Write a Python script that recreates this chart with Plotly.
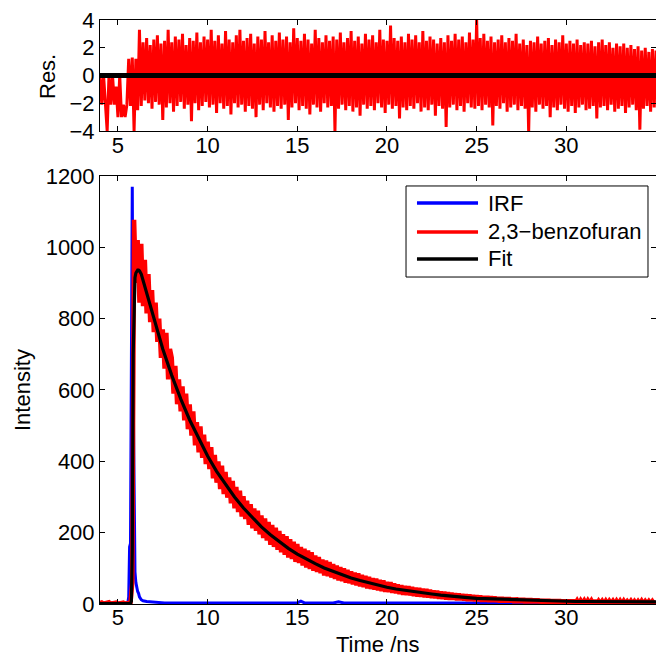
import numpy as np
import plotly.graph_objects as go

FONT = "Liberation Sans, Arial, sans-serif"

# ---------------- data ----------------
# time grid of the measured decay / residuals (ns)
t_step = 0.1
t_start = 4.0

# measured decay, 2,3-benzofuran (counts), t = 4.0 .. 35.0 step 0.1
data_counts = [
    2, 4, 1, 3, 2, 5, 1, 3, 2, 4,
    1, 3, 2, 4, 1, 3, 2, 4, 60, 1077,
    900, 1020, 845, 1010, 835, 965, 815, 925, 790, 880,
    762, 845, 735, 800, 690, 770, 660, 760, 630, 715,
    690, 590, 668, 560, 630, 540, 610, 515, 590, 490,
    560, 472, 540, 445, 510, 425, 498, 410, 475, 392,
    455, 378, 440, 352, 418, 340, 400, 322, 388, 308,
    370, 298, 355, 282, 345, 268, 328, 258, 318, 245,
    302, 238, 290, 222, 280, 212, 268, 205, 262, 195,
    248, 185, 240, 178, 230, 166, 222, 160, 214, 152,
    205, 145, 196, 138, 190, 130, 182, 126, 175, 118,
    168, 115, 160, 108, 155, 102, 150, 98, 145, 93,
    136, 90, 132, 86, 125, 80, 122, 78, 118, 74,
    112, 70, 108, 66, 104, 64, 100, 60, 96, 58,
    92, 55, 88, 52, 86, 49, 82, 47, 79, 44,
    76, 42, 73, 40, 71, 38, 68, 36, 66, 34,
    62, 33, 61, 31, 58, 30, 55, 28, 53, 26,
    51, 25, 50, 24, 48, 22, 46, 21, 45, 20,
    43, 19, 42, 18, 40, 17, 38, 16, 37, 15,
    35, 14, 34, 13, 33, 12, 31, 12, 30, 11,
    29, 11, 28, 10, 27, 9, 26, 9, 25, 8,
    24, 8, 23, 7, 22, 7, 22, 6, 21, 6,
    20, 6, 19, 5, 19, 5, 18, 5, 18, 5,
    17, 4, 17, 4, 16, 4, 16, 3, 15, 3,
    15, 3, 14, 3, 14, 3, 13, 2, 13, 2,
    13, 2, 12, 2, 12, 2, 12, 2, 11, 2,
    11, 2, 11, 1, 11, 2, 10, 1, 10, 2,
    10, 1, 10, 2, 10, 1, 10, 1, 9, 2,
    9, 1, 9, 1, 9, 2, 9, 1, 9, 1,
    9, 1, 9, 1, 8, 2, 9, 1, 8, 1,
    8, 1, 9, 1, 8, 1, 8, 1, 8, 1,
    8,
]

# weighted residuals, same time grid
residuals = [
    0, -2.1, 0, -2.1, -4.0, 0, -2.1, 0, -2.1, -0.8,
    -3.0, 0, -3.0, -2.1, -3.0, -2.1, 1.2, -2.2, 1.3, -4.0,
    1.2, -2.5,
    3.3, -2.2, 2.4, -1.8, 2.7, -2.0, 2.2, -2.4, 2.6, -1.9,
    2.9, -2.1, 2.3, -3.2, 2.5, -2.3, 3.3, -2.0, 2.4, -2.6,
    2.8, -2.2, 2.6, -1.9, 3.0, -2.4, 2.2, -2.1, 2.7, -3.3,
    2.5, -2.0, 3.1, -2.5, 2.4, -2.2, 2.8, -1.9, 2.6, -2.3,
    3.3, -2.1, 2.5, -2.7, 2.9, -2.0, 2.3, -2.4, 3.2, -2.2,
    2.6, -2.8, 2.4, -2.0, 2.9, -2.3, 3.3, -2.1, 2.5, -2.6,
    2.7, -2.2, 3.0, -2.4, 2.3, -3.0, 2.8, -2.1, 2.6, -2.5,
    3.2, -2.0, 2.4, -2.3, 2.9, -2.6, 2.5, -2.2, 3.1, -2.4,
    2.6, -2.1, 2.8, -3.2, 2.4, -2.3, 3.4, -2.0, 2.7, -2.5,
    2.5, -2.2, 3.0, -2.4, 2.6, -2.8, 2.3, -2.1, 3.3, -2.3,
    2.7, -2.6, 2.4, -2.0, 2.9, -2.3, 2.5, -2.2, 2.8, -4.0,
    2.6, -2.4, 3.1, -2.1, 2.4, -2.5, 2.7, -2.2, 3.2, -2.6,
    2.5, -2.3, 2.8, -2.9, 2.3, -2.1, 3.0, -2.4, 2.6, -2.2,
    2.9, -2.5, 2.4, -2.0, 3.3, -2.3, 2.6, -2.7, 2.5, -2.1,
    3.6, -2.4, 2.7, -2.2, 2.5, -3.1, 2.8, -2.3, 2.4, -2.5,
    3.0, -2.2, 2.6, -2.4, 2.9, -2.0, 2.4, -2.6, 3.2, -2.3,
    2.5, -2.5, 2.8, -2.1, 2.6, -2.9, 2.3, -2.2, 2.7, -2.4,
    2.4, -3.7, 2.9, -2.3, 2.5, -2.1, 3.0, -2.5, 2.6, -2.2,
    2.8, -2.6, 2.4, -2.0, 3.1, -2.3, 2.6, -2.4, 4.0, -2.2,
    2.7, -2.5, 3.0, -2.1, 2.5, -2.3, 2.8, -3.6, 2.4, -2.2,
    2.6, -2.4, 2.9, -2.0, 2.4, -2.6, 2.7, -2.3, 2.5, -2.1,
    3.0, -2.5, 2.3, -2.2, 2.6, -2.4, 2.2, -4.1, 2.5, -2.3,
    2.4, -2.6, 2.8, -2.1, 2.3, -2.4, 2.5, -2.2, 2.7, -3.0,
    2.2, -2.3, 2.6, -2.5, 2.4, -2.1, 2.9, -2.4, 2.3, -2.6,
    2.5, -2.2, 2.3, -2.7, 2.6, -2.3, 2.2, -2.1, 2.4, -2.5,
    2.3, -2.4, 2.5, -2.2, 2.1, -3.1, 2.4, -2.3, 2.6, -2.2,
    2.2, -2.5, 2.4, -2.1, 2.0, -2.6, 2.3, -2.4, 2.1, -2.2,
    2.3, -2.7, 2.0, -2.3, 2.2, -2.1, 1.9, -2.5, 2.1, -3.9,
    1.8, -2.4, 2.0, -2.2, 1.7, -2.6, 1.9, -2.3, 1.8,
]

# instrument response function
irf_time = [4.0, 5.55, 5.6, 5.65, 5.7, 5.75, 5.8, 5.85, 5.9, 5.95, 6.0, 6.05,
            6.1, 6.15, 6.2, 6.3, 6.4, 6.6, 6.8, 7.0, 7.2, 7.4, 7.6, 8.0, 9.0,
            10.0, 11.0, 12.0, 13.0, 14.0, 15.0, 15.2, 15.4, 16.0, 17.0, 17.3,
            17.6, 18.0, 19.0, 20.0, 21.0, 22.0, 23.0, 24.0, 24.5, 25.0, 26.0,
            27.0, 28.0, 29.0, 30.0, 31.0]
irf_counts = [3, 3, 20, 160, 170, 890, 1170, 600, 200, 90, 60, 45,
              35, 30, 20, 12, 9, 7, 6, 5, 5, 4, 3, 3, 3,
              3, 3, 3, 3, 3, 3, 8, 3, 3, 3, 6,
              3, 3, 3, 3, 3, 3, 3, 3, 5, 3, 3,
              3, 3, 3, 3, 3]

# fitted decay
fit_time = [4.0, 5.7, 5.75, 5.8, 5.85, 5.9, 5.95, 6.0, 6.05, 6.1, 6.15, 6.2,
            6.3, 6.4, 6.5, 7.0, 7.5, 8.0, 8.5, 9.0, 9.5, 10.0, 10.5, 11.0,
            11.5, 12.0, 12.5, 13.0, 13.5, 14.0, 14.5, 15.0, 15.5, 16.0, 16.5,
            17.0, 17.5, 18.0, 18.5, 19.0, 19.5, 20.0, 20.5, 21.0, 21.5, 22.0,
            22.5, 23.0, 23.5, 24.0, 24.5, 25.0, 25.5, 26.0, 26.5, 27.0, 27.5,
            28.0, 28.5, 29.0, 29.5, 30.0, 30.5, 31.0, 31.5, 32.0, 32.5, 33.0,
            33.5, 34.0, 34.5, 35.0]
fit_counts = [1, 1, 8, 150, 700, 885, 915, 928, 934, 936, 936, 934,
              925, 908, 885, 800, 715, 641, 575, 516, 463, 415, 372, 334,
              300, 269, 241, 216, 194, 174, 156, 140, 126, 113, 101,
              91, 82, 73, 66, 59, 53, 47, 42, 38, 34, 31,
              28, 25, 22, 20, 18, 16, 15, 14, 13, 12, 11,
              10, 9, 9, 8, 8, 7, 7, 7, 6, 6, 6,
              6, 6, 6, 6]

zero_time = [4.0, 35.0]
zero_res = [0, 0]

x_ticks = [5, 10, 15, 20, 25, 30]
main_y_ticks = [0, 200, 400, 600, 800, 1000, 1200]
res_y_ticks = [-4, -2, 0, 2, 4]

legend_names = ["IRF", "2,3\u2212benzofuran", "Fit"]
legend_colors = ["#0000ff", "#ff0000", "#000000"]

data_time = list(np.round(t_start + t_step * np.arange(len(data_counts)), 2))
res_time = list(np.round(t_start + t_step * np.arange(len(residuals)), 2))

FS = 22

# ---------------- figure ----------------
fig = go.Figure()
fig.add_trace(go.Scatter(x=irf_time, y=irf_counts, mode="lines",
                         line=dict(color="#0000ff", width=3),
                         xaxis="x", yaxis="y", showlegend=False))
fig.add_trace(go.Scatter(x=data_time, y=data_counts, mode="lines",
                         line=dict(color="#ff0000", width=4.5),
                         xaxis="x", yaxis="y", showlegend=False))
fig.add_trace(go.Scatter(x=fit_time, y=fit_counts, mode="lines",
                         line=dict(color="#000000", width=3.2),
                         xaxis="x", yaxis="y", showlegend=False))
fig.add_trace(go.Scatter(x=res_time, y=residuals, mode="lines",
                         line=dict(color="#ff0000", width=3),
                         xaxis="x2", yaxis="y2", showlegend=False))
fig.add_trace(go.Scatter(x=zero_time, y=zero_res, mode="lines",
                         line=dict(color="#000000", width=5),
                         xaxis="x2", yaxis="y2", showlegend=False))

common = dict(showline=True, linecolor="black", linewidth=1, mirror="ticks",
              ticks="inside", ticklen=5, tickwidth=1, tickcolor="black",
              showgrid=False, zeroline=False,
              tickfont=dict(family=FONT, size=FS, color="black"))

fig.update_layout(
    width=656, height=656,
    margin=dict(l=100, r=0, t=20, b=52),
    paper_bgcolor="white", plot_bgcolor="white",
    font=dict(family=FONT, size=FS, color="black"),
    showlegend=False,
    xaxis=dict(domain=[0, 1], range=[4, 35], tickvals=x_ticks, anchor="y",
               ticklabelstandoff=-6, **common),
    yaxis=dict(domain=[0, 0.7329], range=[0, 1200], tickvals=main_y_ticks, anchor="x", **common),
    xaxis2=dict(domain=[0, 1], range=[4, 35], tickvals=x_ticks, anchor="y2",
                ticklabelstandoff=-5, **common),
    yaxis2=dict(domain=[0.8099, 1], range=[-4, 4], tickvals=res_y_ticks, anchor="x2", **common),
)

# axis titles
fig.add_annotation(text="Time /ns", xref="paper", yref="paper", x=0.5, y=-0.0702,
                   xanchor="center", yanchor="middle", showarrow=False,
                   font=dict(family=FONT, size=FS, color="black"))
fig.add_annotation(text="Intensity", xref="paper", yref="paper", x=-0.1403, y=0.3664,
                   xanchor="center", yanchor="middle", showarrow=False, textangle=-90,
                   font=dict(family=FONT, size=FS, color="black"))
fig.add_annotation(text="Res.", xref="paper", yref="paper", x=-0.0935, y=0.9024,
                   xanchor="center", yanchor="middle", showarrow=False, textangle=-90,
                   font=dict(family=FONT, size=FS, color="black"))

# legend box drawn by hand (MATLAB style)
fig.add_shape(type="rect", xref="paper", yref="paper", x0=0.5504, x1=0.9856,
              y0=0.5599, y1=0.7158, line=dict(color="black", width=1), fillcolor="white")
row_y = [0.6866, 0.6370, 0.5908]
for name, col, yy in zip(legend_names, legend_colors, row_y):
    fig.add_shape(type="line", xref="paper", yref="paper", x0=0.5701, x1=0.6799,
                  y0=yy, y1=yy, line=dict(color=col, width=3.5))
    fig.add_annotation(text=name, xref="paper", yref="paper", x=0.6942, y=yy,
                       xanchor="left", yanchor="middle", showarrow=False,
                       font=dict(family=FONT, size=FS, color="black"))

fig.write_html("out.html",
               config={"displayModeBar": False},
               post_script="document.body.style.margin='0';"
                           "document.body.style.overflow='hidden';")
